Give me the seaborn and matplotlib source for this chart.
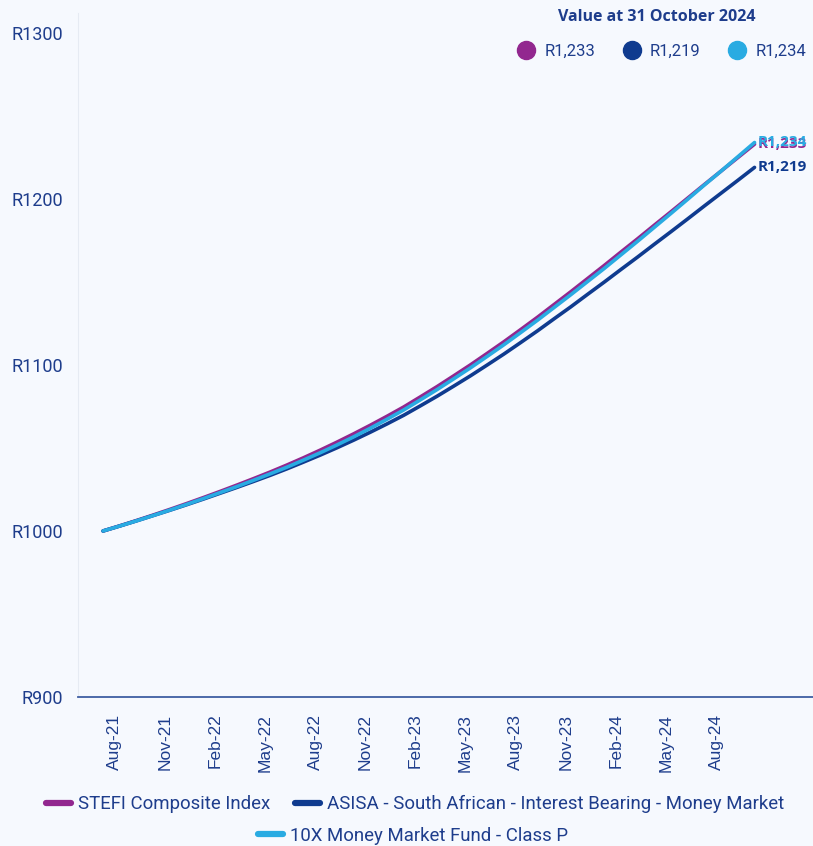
import pandas as pd
import numpy as np
import matplotlib.pyplot as plt
import seaborn as sns
from matplotlib.lines import Line2D

# month-end values, Jul-21 to Oct-24 (R1000 invested)
months = pd.date_range('2021-07-31', '2024-10-31', freq='ME')
stefi = [1000.0, 1003.1, 1006.3, 1009.6, 1013.0, 1016.5, 1020.1, 1023.8, 1027.6, 1031.5,
         1035.5, 1039.7, 1044.1, 1048.7, 1053.5, 1058.5, 1063.7, 1069.1, 1074.7, 1080.8,
         1087.0, 1093.5, 1100.1, 1107.0, 1114.0, 1121.3, 1128.7, 1136.4, 1144.1, 1152.0,
         1159.9, 1168.0, 1176.0, 1184.2, 1192.3, 1200.5, 1208.7, 1216.8, 1224.9, 1233.0]
asisa = [1000.0, 1003.0, 1006.1, 1009.3, 1012.5, 1015.8, 1019.2, 1022.7, 1026.2, 1029.8,
         1033.5, 1037.4, 1041.5, 1045.7, 1050.1, 1054.7, 1059.5, 1064.5, 1069.7, 1075.4,
         1081.2, 1087.3, 1093.5, 1100.0, 1106.6, 1113.5, 1120.5, 1127.8, 1135.0, 1142.5,
         1149.9, 1157.5, 1165.0, 1172.7, 1180.3, 1188.0, 1195.8, 1203.5, 1211.2, 1219.0]
tenx = [1000.0, 1003.0, 1006.1, 1009.3, 1012.6, 1016.0, 1019.5, 1023.1, 1026.7, 1030.5,
        1034.4, 1038.4, 1042.7, 1047.1, 1051.8, 1056.7, 1061.9, 1067.3, 1072.9, 1079.0,
        1085.2, 1091.7, 1098.3, 1105.2, 1112.2, 1119.5, 1126.9, 1134.6, 1142.3, 1150.2,
        1158.1, 1166.3, 1174.5, 1182.9, 1191.3, 1199.8, 1208.4, 1216.8, 1225.4, 1234.0]

series_names = ['STEFI Composite Index',
                'ASISA - South African - Interest Bearing - Money Market',
                '10X Money Market Fund - Class P']
colors = ['#92278f', '#0f3b8f', '#29abe2']
tick_labels = ['Aug-21', 'Nov-21', 'Feb-22', 'May-22', 'Aug-22', 'Nov-22', 'Feb-23',
               'May-23', 'Aug-23', 'Nov-23', 'Feb-24', 'May-24', 'Aug-24']
y_ticks = [900, 1000, 1100, 1200, 1300]

bg = '#f6f9fe'
txt = '#1e3d8c'

sns.set_theme(style='white')
plt.rcParams['font.family'] = ['Roboto', 'DejaVu Sans']

idx = np.arange(len(months))
df = pd.DataFrame({'idx': np.tile(idx, 3),
                   'value': stefi + asisa + tenx,
                   'series': np.repeat(series_names, len(months))})

fig = plt.figure(figsize=(8.13, 8.46), dpi=100, facecolor=bg)
ax = fig.add_axes([78 / 813, 1 - 697 / 846, 1 - 78 / 813, (697 - 13) / 846])
ax.set_facecolor(bg)

sns.lineplot(data=df, x='idx', y='value', hue='series', hue_order=series_names,
             palette=colors, linewidth=2.6, legend=False, ax=ax)

ax.set_xlim(-1.5, 42.5)
ax.set_ylim(900, 1312)
ax.set_yticks(y_ticks)
ax.set_yticklabels([f'R{v}' for v in y_ticks], fontsize=13, color=txt)
ax.set_xticks(np.arange(1, 38, 3) - 0.3)
ax.set_xticklabels(tick_labels, rotation=90, fontsize=12.5, color=txt,
                   family=['Liberation Sans', 'DejaVu Sans'], va='top')
ax.tick_params(axis='y', length=0, pad=11)
ax.tick_params(axis='x', length=0, pad=12)
ax.set_xlabel('')
ax.set_ylabel('')
for s in ['top', 'right']:
    ax.spines[s].set_visible(False)
ax.spines['left'].set_color('#e6ebf3')
ax.spines['left'].set_linewidth(0.8)
ax.spines['bottom'].set_color('#3f5fa3')
ax.spines['bottom'].set_linewidth(1.3)

# end-of-line value labels
last = [stefi[-1], asisa[-1], tenx[-1]]
for val, c in zip(last, colors):
    ax.annotate(f'R{val:,.0f}', xy=(idx[-1], val), xytext=(2.5, 0), textcoords='offset points',
                va='center', ha='left', color=c, fontsize=11, fontweight='bold',
                family=['Open Sans', 'DejaVu Sans'], annotation_clip=False)

# value box top right
fig.text(657 / 813, 1 - 17 / 846, 'Value at 31 October 2024', ha='center', va='center',
         fontsize=11.5, fontweight='bold', color=txt, family=['Open Sans', 'DejaVu Sans'])
dot_handles = [Line2D([], [], marker='o', ls='', markersize=13, color=c) for c in colors]
fig.legend(dot_handles, [f'R{v:,.0f}' for v in last], ncol=3, frameon=False,
           loc='center', bbox_to_anchor=(662 / 813, 1 - 51 / 846), fontsize=12,
           labelcolor=txt, handlelength=1.0, handletextpad=0.6, columnspacing=1.7)

# bottom legend
line_handles = [Line2D([], [], color=c, lw=4.5, solid_capstyle='round') for c in colors]
fig.legend(line_handles[:2], series_names[:2], ncol=2, frameon=False, loc='center',
           bbox_to_anchor=(415 / 813, 1 - 804 / 846), fontsize=13.4, labelcolor=txt,
           handlelength=1.35, handletextpad=0.4, columnspacing=1.3)
fig.legend(line_handles[2:], series_names[2:], frameon=False, loc='center',
           bbox_to_anchor=(413 / 813, 1 - 836 / 846), fontsize=13.4, labelcolor=txt,
           handlelength=1.35, handletextpad=0.4)

fig.savefig('out.png', dpi=100, facecolor=bg)
